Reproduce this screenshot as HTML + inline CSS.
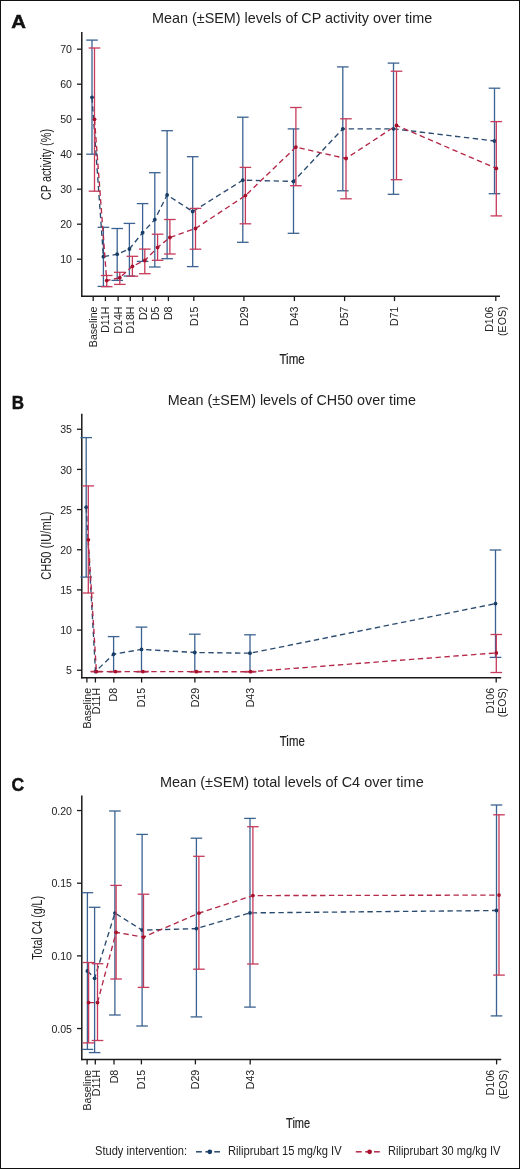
<!DOCTYPE html>
<html><head><meta charset="utf-8"><title>Chart</title>
<style>
html,body{margin:0;padding:0;background:#fff;}
body{width:520px;height:1169px;overflow:hidden;}
svg{display:block;font-family:"Liberation Sans", sans-serif;will-change:transform;}
</style></head>
<body>
<svg width="520" height="1169" viewBox="0 0 520 1169">
<rect x="0" y="0" width="520" height="1169" fill="#fff"/>
<text transform="translate(11.22 27.77) scale(1.072 1)" x="0" y="0" font-size="19.0" font-weight="bold" fill="#111" stroke="#111" stroke-width="0.45">A</text>
<text x="152.00" y="23.20" font-size="14.2" text-anchor="start" font-weight="normal" fill="#222222" textLength="280.20" lengthAdjust="spacingAndGlyphs">Mean (±SEM) levels of CP activity over time</text>
<line x1="81.80" y1="32.00" x2="81.80" y2="297.00" stroke="#1a1a1a" stroke-width="1.5"/>
<line x1="81.10" y1="296.30" x2="500.00" y2="296.30" stroke="#1a1a1a" stroke-width="1.5"/>
<line x1="77.00" y1="259.20" x2="81.80" y2="259.20" stroke="#1a1a1a" stroke-width="1.3"/>
<text x="72.00" y="263.30" font-size="10.6" text-anchor="end" font-weight="normal" fill="#222222">10</text>
<line x1="77.00" y1="224.20" x2="81.80" y2="224.20" stroke="#1a1a1a" stroke-width="1.3"/>
<text x="72.00" y="228.30" font-size="10.6" text-anchor="end" font-weight="normal" fill="#222222">20</text>
<line x1="77.00" y1="189.20" x2="81.80" y2="189.20" stroke="#1a1a1a" stroke-width="1.3"/>
<text x="72.00" y="193.30" font-size="10.6" text-anchor="end" font-weight="normal" fill="#222222">30</text>
<line x1="77.00" y1="154.20" x2="81.80" y2="154.20" stroke="#1a1a1a" stroke-width="1.3"/>
<text x="72.00" y="158.30" font-size="10.6" text-anchor="end" font-weight="normal" fill="#222222">40</text>
<line x1="77.00" y1="119.20" x2="81.80" y2="119.20" stroke="#1a1a1a" stroke-width="1.3"/>
<text x="72.00" y="123.30" font-size="10.6" text-anchor="end" font-weight="normal" fill="#222222">50</text>
<line x1="77.00" y1="84.20" x2="81.80" y2="84.20" stroke="#1a1a1a" stroke-width="1.3"/>
<text x="72.00" y="88.30" font-size="10.6" text-anchor="end" font-weight="normal" fill="#222222">60</text>
<line x1="77.00" y1="49.20" x2="81.80" y2="49.20" stroke="#1a1a1a" stroke-width="1.3"/>
<text x="72.00" y="53.30" font-size="10.6" text-anchor="end" font-weight="normal" fill="#222222">70</text>
<line x1="93.20" y1="296.30" x2="93.20" y2="301.10" stroke="#1a1a1a" stroke-width="1.3"/>
<text x="96.90" y="306.50" font-size="10.6" text-anchor="end" font-weight="normal" fill="#222222" transform="rotate(-90 96.90 306.50)">Baseline</text>
<line x1="105.40" y1="296.30" x2="105.40" y2="301.10" stroke="#1a1a1a" stroke-width="1.3"/>
<text x="109.10" y="306.50" font-size="10.6" text-anchor="end" font-weight="normal" fill="#222222" transform="rotate(-90 109.10 306.50)">D11H</text>
<line x1="118.10" y1="296.30" x2="118.10" y2="301.10" stroke="#1a1a1a" stroke-width="1.3"/>
<text x="121.80" y="306.50" font-size="10.6" text-anchor="end" font-weight="normal" fill="#222222" transform="rotate(-90 121.80 306.50)">D14H</text>
<line x1="130.30" y1="296.30" x2="130.30" y2="301.10" stroke="#1a1a1a" stroke-width="1.3"/>
<text x="134.00" y="306.50" font-size="10.6" text-anchor="end" font-weight="normal" fill="#222222" transform="rotate(-90 134.00 306.50)">D18H</text>
<line x1="142.80" y1="296.30" x2="142.80" y2="301.10" stroke="#1a1a1a" stroke-width="1.3"/>
<text x="146.50" y="306.50" font-size="10.6" text-anchor="end" font-weight="normal" fill="#222222" transform="rotate(-90 146.50 306.50)">D2</text>
<line x1="155.50" y1="296.30" x2="155.50" y2="301.10" stroke="#1a1a1a" stroke-width="1.3"/>
<text x="159.20" y="306.50" font-size="10.6" text-anchor="end" font-weight="normal" fill="#222222" transform="rotate(-90 159.20 306.50)">D5</text>
<line x1="168.40" y1="296.30" x2="168.40" y2="301.10" stroke="#1a1a1a" stroke-width="1.3"/>
<text x="172.10" y="306.50" font-size="10.6" text-anchor="end" font-weight="normal" fill="#222222" transform="rotate(-90 172.10 306.50)">D8</text>
<line x1="193.80" y1="296.30" x2="193.80" y2="301.10" stroke="#1a1a1a" stroke-width="1.3"/>
<text x="197.50" y="306.50" font-size="10.6" text-anchor="end" font-weight="normal" fill="#222222" transform="rotate(-90 197.50 306.50)">D15</text>
<line x1="243.90" y1="296.30" x2="243.90" y2="301.10" stroke="#1a1a1a" stroke-width="1.3"/>
<text x="247.60" y="306.50" font-size="10.6" text-anchor="end" font-weight="normal" fill="#222222" transform="rotate(-90 247.60 306.50)">D29</text>
<line x1="294.40" y1="296.30" x2="294.40" y2="301.10" stroke="#1a1a1a" stroke-width="1.3"/>
<text x="298.10" y="306.50" font-size="10.6" text-anchor="end" font-weight="normal" fill="#222222" transform="rotate(-90 298.10 306.50)">D43</text>
<line x1="344.60" y1="296.30" x2="344.60" y2="301.10" stroke="#1a1a1a" stroke-width="1.3"/>
<text x="348.30" y="306.50" font-size="10.6" text-anchor="end" font-weight="normal" fill="#222222" transform="rotate(-90 348.30 306.50)">D57</text>
<line x1="394.50" y1="296.30" x2="394.50" y2="301.10" stroke="#1a1a1a" stroke-width="1.3"/>
<text x="398.20" y="306.50" font-size="10.6" text-anchor="end" font-weight="normal" fill="#222222" transform="rotate(-90 398.20 306.50)">D71</text>
<line x1="495.80" y1="296.30" x2="495.80" y2="301.10" stroke="#1a1a1a" stroke-width="1.3"/>
<text x="493.25" y="306.50" font-size="10.6" text-anchor="end" font-weight="normal" fill="#222222" transform="rotate(-90 493.25 306.50)">D106</text>
<text x="505.75" y="306.50" font-size="10.6" text-anchor="end" font-weight="normal" fill="#222222" transform="rotate(-90 505.75 306.50)">(EOS)</text>
<text x="51.00" y="164.50" font-size="14.5" text-anchor="middle" font-weight="normal" fill="#222222" textLength="71.00" lengthAdjust="spacingAndGlyphs" transform="rotate(-90 51.00 164.50)">CP activity (%)</text>
<text x="279.50" y="364.40" font-size="14.8" text-anchor="start" font-weight="normal" fill="#222222" textLength="25.20" lengthAdjust="spacingAndGlyphs" stroke="#222" stroke-width="0.2">Time</text>
<line x1="92.00" y1="40.10" x2="92.00" y2="154.20" stroke="#3b6290" stroke-width="1.3"/>
<line x1="86.20" y1="40.10" x2="97.80" y2="40.10" stroke="#3b6290" stroke-width="1.3"/>
<line x1="86.20" y1="154.20" x2="97.80" y2="154.20" stroke="#3b6290" stroke-width="1.3"/>
<line x1="103.40" y1="227.30" x2="103.40" y2="286.40" stroke="#3b6290" stroke-width="1.3"/>
<line x1="97.60" y1="227.30" x2="109.20" y2="227.30" stroke="#3b6290" stroke-width="1.3"/>
<line x1="97.60" y1="286.40" x2="109.20" y2="286.40" stroke="#3b6290" stroke-width="1.3"/>
<line x1="117.20" y1="228.50" x2="117.20" y2="280.40" stroke="#3b6290" stroke-width="1.3"/>
<line x1="111.40" y1="228.50" x2="123.00" y2="228.50" stroke="#3b6290" stroke-width="1.3"/>
<line x1="111.40" y1="280.40" x2="123.00" y2="280.40" stroke="#3b6290" stroke-width="1.3"/>
<line x1="129.40" y1="223.40" x2="129.40" y2="276.00" stroke="#3b6290" stroke-width="1.3"/>
<line x1="123.60" y1="223.40" x2="135.20" y2="223.40" stroke="#3b6290" stroke-width="1.3"/>
<line x1="123.60" y1="276.00" x2="135.20" y2="276.00" stroke="#3b6290" stroke-width="1.3"/>
<line x1="142.60" y1="203.60" x2="142.60" y2="261.40" stroke="#3b6290" stroke-width="1.3"/>
<line x1="136.80" y1="203.60" x2="148.40" y2="203.60" stroke="#3b6290" stroke-width="1.3"/>
<line x1="136.80" y1="261.40" x2="148.40" y2="261.40" stroke="#3b6290" stroke-width="1.3"/>
<line x1="154.80" y1="172.70" x2="154.80" y2="267.00" stroke="#3b6290" stroke-width="1.3"/>
<line x1="149.00" y1="172.70" x2="160.60" y2="172.70" stroke="#3b6290" stroke-width="1.3"/>
<line x1="149.00" y1="267.00" x2="160.60" y2="267.00" stroke="#3b6290" stroke-width="1.3"/>
<line x1="167.10" y1="130.70" x2="167.10" y2="258.70" stroke="#3b6290" stroke-width="1.3"/>
<line x1="161.30" y1="130.70" x2="172.90" y2="130.70" stroke="#3b6290" stroke-width="1.3"/>
<line x1="161.30" y1="258.70" x2="172.90" y2="258.70" stroke="#3b6290" stroke-width="1.3"/>
<line x1="192.70" y1="156.70" x2="192.70" y2="266.60" stroke="#3b6290" stroke-width="1.3"/>
<line x1="186.90" y1="156.70" x2="198.50" y2="156.70" stroke="#3b6290" stroke-width="1.3"/>
<line x1="186.90" y1="266.60" x2="198.50" y2="266.60" stroke="#3b6290" stroke-width="1.3"/>
<line x1="242.80" y1="117.20" x2="242.80" y2="242.30" stroke="#3b6290" stroke-width="1.3"/>
<line x1="237.00" y1="117.20" x2="248.60" y2="117.20" stroke="#3b6290" stroke-width="1.3"/>
<line x1="237.00" y1="242.30" x2="248.60" y2="242.30" stroke="#3b6290" stroke-width="1.3"/>
<line x1="293.50" y1="128.90" x2="293.50" y2="233.30" stroke="#3b6290" stroke-width="1.3"/>
<line x1="287.70" y1="128.90" x2="299.30" y2="128.90" stroke="#3b6290" stroke-width="1.3"/>
<line x1="287.70" y1="233.30" x2="299.30" y2="233.30" stroke="#3b6290" stroke-width="1.3"/>
<line x1="342.80" y1="66.90" x2="342.80" y2="190.80" stroke="#3b6290" stroke-width="1.3"/>
<line x1="337.00" y1="66.90" x2="348.60" y2="66.90" stroke="#3b6290" stroke-width="1.3"/>
<line x1="337.00" y1="190.80" x2="348.60" y2="190.80" stroke="#3b6290" stroke-width="1.3"/>
<line x1="393.50" y1="63.10" x2="393.50" y2="194.30" stroke="#3b6290" stroke-width="1.3"/>
<line x1="387.70" y1="63.10" x2="399.30" y2="63.10" stroke="#3b6290" stroke-width="1.3"/>
<line x1="387.70" y1="194.30" x2="399.30" y2="194.30" stroke="#3b6290" stroke-width="1.3"/>
<line x1="494.50" y1="88.20" x2="494.50" y2="193.70" stroke="#3b6290" stroke-width="1.3"/>
<line x1="488.70" y1="88.20" x2="500.30" y2="88.20" stroke="#3b6290" stroke-width="1.3"/>
<line x1="488.70" y1="193.70" x2="500.30" y2="193.70" stroke="#3b6290" stroke-width="1.3"/>
<polyline points="92.00,97.30 103.40,256.70 117.20,254.20 129.40,249.00 142.60,232.70 154.80,219.60 167.10,195.00 192.70,211.50 242.80,180.20 293.50,181.40 342.80,128.80 393.50,128.80 494.50,141.00" fill="none" stroke="#2a4a70" stroke-width="1.35" stroke-dasharray="5.4 3.5"/>
<circle cx="92.00" cy="97.30" r="1.9" fill="#163e66"/>
<circle cx="103.40" cy="256.70" r="1.9" fill="#163e66"/>
<circle cx="117.20" cy="254.20" r="1.9" fill="#163e66"/>
<circle cx="129.40" cy="249.00" r="1.9" fill="#163e66"/>
<circle cx="142.60" cy="232.70" r="1.9" fill="#163e66"/>
<circle cx="154.80" cy="219.60" r="1.9" fill="#163e66"/>
<circle cx="167.10" cy="195.00" r="1.9" fill="#163e66"/>
<circle cx="192.70" cy="211.50" r="1.9" fill="#163e66"/>
<circle cx="242.80" cy="180.20" r="1.9" fill="#163e66"/>
<circle cx="293.50" cy="181.40" r="1.9" fill="#163e66"/>
<circle cx="342.80" cy="128.80" r="1.9" fill="#163e66"/>
<circle cx="393.50" cy="128.80" r="1.9" fill="#163e66"/>
<circle cx="494.50" cy="141.00" r="1.9" fill="#163e66"/>
<line x1="94.50" y1="48.00" x2="94.50" y2="191.20" stroke="#c63a5a" stroke-width="1.3"/>
<line x1="88.70" y1="48.00" x2="100.30" y2="48.00" stroke="#c63a5a" stroke-width="1.3"/>
<line x1="88.70" y1="191.20" x2="100.30" y2="191.20" stroke="#c63a5a" stroke-width="1.3"/>
<line x1="106.70" y1="275.50" x2="106.70" y2="286.70" stroke="#c63a5a" stroke-width="1.3"/>
<line x1="100.90" y1="275.50" x2="112.50" y2="275.50" stroke="#c63a5a" stroke-width="1.3"/>
<line x1="100.90" y1="286.70" x2="112.50" y2="286.70" stroke="#c63a5a" stroke-width="1.3"/>
<line x1="119.80" y1="272.30" x2="119.80" y2="284.40" stroke="#c63a5a" stroke-width="1.3"/>
<line x1="114.00" y1="272.30" x2="125.60" y2="272.30" stroke="#c63a5a" stroke-width="1.3"/>
<line x1="114.00" y1="284.40" x2="125.60" y2="284.40" stroke="#c63a5a" stroke-width="1.3"/>
<line x1="132.40" y1="256.30" x2="132.40" y2="276.20" stroke="#c63a5a" stroke-width="1.3"/>
<line x1="126.60" y1="256.30" x2="138.20" y2="256.30" stroke="#c63a5a" stroke-width="1.3"/>
<line x1="126.60" y1="276.20" x2="138.20" y2="276.20" stroke="#c63a5a" stroke-width="1.3"/>
<line x1="144.80" y1="249.10" x2="144.80" y2="273.70" stroke="#c63a5a" stroke-width="1.3"/>
<line x1="139.00" y1="249.10" x2="150.60" y2="249.10" stroke="#c63a5a" stroke-width="1.3"/>
<line x1="139.00" y1="273.70" x2="150.60" y2="273.70" stroke="#c63a5a" stroke-width="1.3"/>
<line x1="157.60" y1="234.20" x2="157.60" y2="260.30" stroke="#c63a5a" stroke-width="1.3"/>
<line x1="151.80" y1="234.20" x2="163.40" y2="234.20" stroke="#c63a5a" stroke-width="1.3"/>
<line x1="151.80" y1="260.30" x2="163.40" y2="260.30" stroke="#c63a5a" stroke-width="1.3"/>
<line x1="169.90" y1="219.50" x2="169.90" y2="254.00" stroke="#c63a5a" stroke-width="1.3"/>
<line x1="164.10" y1="219.50" x2="175.70" y2="219.50" stroke="#c63a5a" stroke-width="1.3"/>
<line x1="164.10" y1="254.00" x2="175.70" y2="254.00" stroke="#c63a5a" stroke-width="1.3"/>
<line x1="195.50" y1="208.40" x2="195.50" y2="249.20" stroke="#c63a5a" stroke-width="1.3"/>
<line x1="189.70" y1="208.40" x2="201.30" y2="208.40" stroke="#c63a5a" stroke-width="1.3"/>
<line x1="189.70" y1="249.20" x2="201.30" y2="249.20" stroke="#c63a5a" stroke-width="1.3"/>
<line x1="245.40" y1="167.40" x2="245.40" y2="223.80" stroke="#c63a5a" stroke-width="1.3"/>
<line x1="239.60" y1="167.40" x2="251.20" y2="167.40" stroke="#c63a5a" stroke-width="1.3"/>
<line x1="239.60" y1="223.80" x2="251.20" y2="223.80" stroke="#c63a5a" stroke-width="1.3"/>
<line x1="295.90" y1="107.50" x2="295.90" y2="185.70" stroke="#c63a5a" stroke-width="1.3"/>
<line x1="290.10" y1="107.50" x2="301.70" y2="107.50" stroke="#c63a5a" stroke-width="1.3"/>
<line x1="290.10" y1="185.70" x2="301.70" y2="185.70" stroke="#c63a5a" stroke-width="1.3"/>
<line x1="346.00" y1="118.80" x2="346.00" y2="198.80" stroke="#c63a5a" stroke-width="1.3"/>
<line x1="340.20" y1="118.80" x2="351.80" y2="118.80" stroke="#c63a5a" stroke-width="1.3"/>
<line x1="340.20" y1="198.80" x2="351.80" y2="198.80" stroke="#c63a5a" stroke-width="1.3"/>
<line x1="396.50" y1="71.20" x2="396.50" y2="179.70" stroke="#c63a5a" stroke-width="1.3"/>
<line x1="390.70" y1="71.20" x2="402.30" y2="71.20" stroke="#c63a5a" stroke-width="1.3"/>
<line x1="390.70" y1="179.70" x2="402.30" y2="179.70" stroke="#c63a5a" stroke-width="1.3"/>
<line x1="496.30" y1="121.60" x2="496.30" y2="215.90" stroke="#c63a5a" stroke-width="1.3"/>
<line x1="490.50" y1="121.60" x2="502.10" y2="121.60" stroke="#c63a5a" stroke-width="1.3"/>
<line x1="490.50" y1="215.90" x2="502.10" y2="215.90" stroke="#c63a5a" stroke-width="1.3"/>
<polyline points="94.50,119.30 106.70,280.60 119.80,277.70 132.40,266.30 144.80,260.50 157.60,247.40 169.90,237.50 195.50,228.50 245.40,195.60 295.90,147.10 346.00,158.50 396.50,125.40 496.30,168.40" fill="none" stroke="#b42848" stroke-width="1.35" stroke-dasharray="5.4 3.5"/>
<circle cx="94.50" cy="119.30" r="1.9" fill="#a8102c"/>
<circle cx="106.70" cy="280.60" r="1.9" fill="#a8102c"/>
<circle cx="119.80" cy="277.70" r="1.9" fill="#a8102c"/>
<circle cx="132.40" cy="266.30" r="1.9" fill="#a8102c"/>
<circle cx="144.80" cy="260.50" r="1.9" fill="#a8102c"/>
<circle cx="157.60" cy="247.40" r="1.9" fill="#a8102c"/>
<circle cx="169.90" cy="237.50" r="1.9" fill="#a8102c"/>
<circle cx="195.50" cy="228.50" r="1.9" fill="#a8102c"/>
<circle cx="245.40" cy="195.60" r="1.9" fill="#a8102c"/>
<circle cx="295.90" cy="147.10" r="1.9" fill="#a8102c"/>
<circle cx="346.00" cy="158.50" r="1.9" fill="#a8102c"/>
<circle cx="396.50" cy="125.40" r="1.9" fill="#a8102c"/>
<circle cx="496.30" cy="168.40" r="1.9" fill="#a8102c"/>
<text transform="translate(11.79 409.07) scale(0.894 1)" x="0" y="0" font-size="19.0" font-weight="bold" fill="#111" stroke="#111" stroke-width="0.45">B</text>
<text x="167.70" y="405.00" font-size="14.2" text-anchor="start" font-weight="normal" fill="#222222" textLength="248.30" lengthAdjust="spacingAndGlyphs">Mean (±SEM) levels of CH50 over time</text>
<line x1="81.80" y1="413.80" x2="81.80" y2="678.40" stroke="#1a1a1a" stroke-width="1.5"/>
<line x1="81.10" y1="677.70" x2="501.20" y2="677.70" stroke="#1a1a1a" stroke-width="1.5"/>
<line x1="77.00" y1="670.24" x2="81.80" y2="670.24" stroke="#1a1a1a" stroke-width="1.3"/>
<text x="72.00" y="674.34" font-size="10.6" text-anchor="end" font-weight="normal" fill="#222222">5</text>
<line x1="77.00" y1="630.07" x2="81.80" y2="630.07" stroke="#1a1a1a" stroke-width="1.3"/>
<text x="72.00" y="634.17" font-size="10.6" text-anchor="end" font-weight="normal" fill="#222222">10</text>
<line x1="77.00" y1="589.90" x2="81.80" y2="589.90" stroke="#1a1a1a" stroke-width="1.3"/>
<text x="72.00" y="594.00" font-size="10.6" text-anchor="end" font-weight="normal" fill="#222222">15</text>
<line x1="77.00" y1="549.74" x2="81.80" y2="549.74" stroke="#1a1a1a" stroke-width="1.3"/>
<text x="72.00" y="553.84" font-size="10.6" text-anchor="end" font-weight="normal" fill="#222222">20</text>
<line x1="77.00" y1="509.57" x2="81.80" y2="509.57" stroke="#1a1a1a" stroke-width="1.3"/>
<text x="72.00" y="513.67" font-size="10.6" text-anchor="end" font-weight="normal" fill="#222222">25</text>
<line x1="77.00" y1="469.41" x2="81.80" y2="469.41" stroke="#1a1a1a" stroke-width="1.3"/>
<text x="72.00" y="473.51" font-size="10.6" text-anchor="end" font-weight="normal" fill="#222222">30</text>
<line x1="77.00" y1="429.25" x2="81.80" y2="429.25" stroke="#1a1a1a" stroke-width="1.3"/>
<text x="72.00" y="433.35" font-size="10.6" text-anchor="end" font-weight="normal" fill="#222222">35</text>
<line x1="86.90" y1="677.70" x2="86.90" y2="682.50" stroke="#1a1a1a" stroke-width="1.3"/>
<text x="90.60" y="687.90" font-size="10.6" text-anchor="end" font-weight="normal" fill="#222222" transform="rotate(-90 90.60 687.90)">Baseline</text>
<line x1="95.40" y1="677.70" x2="95.40" y2="682.50" stroke="#1a1a1a" stroke-width="1.3"/>
<text x="99.70" y="687.90" font-size="10.6" text-anchor="end" font-weight="normal" fill="#222222" transform="rotate(-90 99.70 687.90)">D11H</text>
<line x1="113.80" y1="677.70" x2="113.80" y2="682.50" stroke="#1a1a1a" stroke-width="1.3"/>
<text x="117.50" y="687.90" font-size="10.6" text-anchor="end" font-weight="normal" fill="#222222" transform="rotate(-90 117.50 687.90)">D8</text>
<line x1="141.60" y1="677.70" x2="141.60" y2="682.50" stroke="#1a1a1a" stroke-width="1.3"/>
<text x="145.30" y="687.90" font-size="10.6" text-anchor="end" font-weight="normal" fill="#222222" transform="rotate(-90 145.30 687.90)">D15</text>
<line x1="194.90" y1="677.70" x2="194.90" y2="682.50" stroke="#1a1a1a" stroke-width="1.3"/>
<text x="198.60" y="687.90" font-size="10.6" text-anchor="end" font-weight="normal" fill="#222222" transform="rotate(-90 198.60 687.90)">D29</text>
<line x1="250.00" y1="677.70" x2="250.00" y2="682.50" stroke="#1a1a1a" stroke-width="1.3"/>
<text x="253.70" y="687.90" font-size="10.6" text-anchor="end" font-weight="normal" fill="#222222" transform="rotate(-90 253.70 687.90)">D43</text>
<line x1="496.20" y1="677.70" x2="496.20" y2="682.50" stroke="#1a1a1a" stroke-width="1.3"/>
<text x="493.65" y="687.90" font-size="10.6" text-anchor="end" font-weight="normal" fill="#222222" transform="rotate(-90 493.65 687.90)">D106</text>
<text x="506.15" y="687.90" font-size="10.6" text-anchor="end" font-weight="normal" fill="#222222" transform="rotate(-90 506.15 687.90)">(EOS)</text>
<text x="51.00" y="545.65" font-size="14.5" text-anchor="middle" font-weight="normal" fill="#222222" textLength="68.30" lengthAdjust="spacingAndGlyphs" transform="rotate(-90 51.00 545.65)">CH50 (IU/mL)</text>
<text x="279.80" y="745.50" font-size="14.8" text-anchor="start" font-weight="normal" fill="#222222" textLength="25.00" lengthAdjust="spacingAndGlyphs" stroke="#222" stroke-width="0.2">Time</text>
<line x1="86.20" y1="437.60" x2="86.20" y2="577.10" stroke="#3b6290" stroke-width="1.3"/>
<line x1="80.40" y1="437.60" x2="92.00" y2="437.60" stroke="#3b6290" stroke-width="1.3"/>
<line x1="80.40" y1="577.10" x2="92.00" y2="577.10" stroke="#3b6290" stroke-width="1.3"/>
<line x1="113.60" y1="636.60" x2="113.60" y2="671.70" stroke="#3b6290" stroke-width="1.3"/>
<line x1="107.80" y1="636.60" x2="119.40" y2="636.60" stroke="#3b6290" stroke-width="1.3"/>
<line x1="107.80" y1="671.70" x2="119.40" y2="671.70" stroke="#3b6290" stroke-width="1.3"/>
<line x1="141.50" y1="627.10" x2="141.50" y2="671.70" stroke="#3b6290" stroke-width="1.3"/>
<line x1="135.70" y1="627.10" x2="147.30" y2="627.10" stroke="#3b6290" stroke-width="1.3"/>
<line x1="135.70" y1="671.70" x2="147.30" y2="671.70" stroke="#3b6290" stroke-width="1.3"/>
<line x1="194.80" y1="634.20" x2="194.80" y2="671.70" stroke="#3b6290" stroke-width="1.3"/>
<line x1="189.00" y1="634.20" x2="200.60" y2="634.20" stroke="#3b6290" stroke-width="1.3"/>
<line x1="189.00" y1="671.70" x2="200.60" y2="671.70" stroke="#3b6290" stroke-width="1.3"/>
<line x1="250.00" y1="634.80" x2="250.00" y2="671.70" stroke="#3b6290" stroke-width="1.3"/>
<line x1="244.20" y1="634.80" x2="255.80" y2="634.80" stroke="#3b6290" stroke-width="1.3"/>
<line x1="244.20" y1="671.70" x2="255.80" y2="671.70" stroke="#3b6290" stroke-width="1.3"/>
<line x1="495.50" y1="550.00" x2="495.50" y2="657.40" stroke="#3b6290" stroke-width="1.3"/>
<line x1="489.70" y1="550.00" x2="501.30" y2="550.00" stroke="#3b6290" stroke-width="1.3"/>
<line x1="489.70" y1="657.40" x2="501.30" y2="657.40" stroke="#3b6290" stroke-width="1.3"/>
<polyline points="86.20,507.20 95.50,671.50 113.60,654.20 141.50,649.40 194.80,652.50 250.00,653.20 495.50,603.60" fill="none" stroke="#2a4a70" stroke-width="1.35" stroke-dasharray="5.4 3.5"/>
<circle cx="86.20" cy="507.20" r="1.9" fill="#163e66"/>
<circle cx="95.50" cy="671.50" r="1.9" fill="#163e66"/>
<circle cx="113.60" cy="654.20" r="1.9" fill="#163e66"/>
<circle cx="141.50" cy="649.40" r="1.9" fill="#163e66"/>
<circle cx="194.80" cy="652.50" r="1.9" fill="#163e66"/>
<circle cx="250.00" cy="653.20" r="1.9" fill="#163e66"/>
<circle cx="495.50" cy="603.60" r="1.9" fill="#163e66"/>
<line x1="88.30" y1="485.90" x2="88.30" y2="593.00" stroke="#c63a5a" stroke-width="1.3"/>
<line x1="82.50" y1="485.90" x2="94.10" y2="485.90" stroke="#c63a5a" stroke-width="1.3"/>
<line x1="82.50" y1="593.00" x2="94.10" y2="593.00" stroke="#c63a5a" stroke-width="1.3"/>
<line x1="96.40" y1="671.40" x2="96.40" y2="671.80" stroke="#c63a5a" stroke-width="1.3"/>
<line x1="90.60" y1="671.40" x2="102.20" y2="671.40" stroke="#c63a5a" stroke-width="1.3"/>
<line x1="90.60" y1="671.80" x2="102.20" y2="671.80" stroke="#c63a5a" stroke-width="1.3"/>
<line x1="115.40" y1="671.40" x2="115.40" y2="671.80" stroke="#c63a5a" stroke-width="1.3"/>
<line x1="109.60" y1="671.40" x2="121.20" y2="671.40" stroke="#c63a5a" stroke-width="1.3"/>
<line x1="109.60" y1="671.80" x2="121.20" y2="671.80" stroke="#c63a5a" stroke-width="1.3"/>
<line x1="142.90" y1="671.40" x2="142.90" y2="671.80" stroke="#c63a5a" stroke-width="1.3"/>
<line x1="137.10" y1="671.40" x2="148.70" y2="671.40" stroke="#c63a5a" stroke-width="1.3"/>
<line x1="137.10" y1="671.80" x2="148.70" y2="671.80" stroke="#c63a5a" stroke-width="1.3"/>
<line x1="196.40" y1="671.50" x2="196.40" y2="671.90" stroke="#c63a5a" stroke-width="1.3"/>
<line x1="190.60" y1="671.50" x2="202.20" y2="671.50" stroke="#c63a5a" stroke-width="1.3"/>
<line x1="190.60" y1="671.90" x2="202.20" y2="671.90" stroke="#c63a5a" stroke-width="1.3"/>
<line x1="250.50" y1="671.50" x2="250.50" y2="671.90" stroke="#c63a5a" stroke-width="1.3"/>
<line x1="244.70" y1="671.50" x2="256.30" y2="671.50" stroke="#c63a5a" stroke-width="1.3"/>
<line x1="244.70" y1="671.90" x2="256.30" y2="671.90" stroke="#c63a5a" stroke-width="1.3"/>
<line x1="496.30" y1="634.50" x2="496.30" y2="672.50" stroke="#c63a5a" stroke-width="1.3"/>
<line x1="490.50" y1="634.50" x2="502.10" y2="634.50" stroke="#c63a5a" stroke-width="1.3"/>
<line x1="490.50" y1="672.50" x2="502.10" y2="672.50" stroke="#c63a5a" stroke-width="1.3"/>
<polyline points="88.30,539.80 96.40,671.60 115.40,671.60 142.90,671.60 196.40,671.70 250.50,671.70 496.30,652.90" fill="none" stroke="#b42848" stroke-width="1.35" stroke-dasharray="5.4 3.5"/>
<circle cx="88.30" cy="539.80" r="1.9" fill="#a8102c"/>
<circle cx="96.40" cy="671.60" r="1.9" fill="#a8102c"/>
<circle cx="115.40" cy="671.60" r="1.9" fill="#a8102c"/>
<circle cx="142.90" cy="671.60" r="1.9" fill="#a8102c"/>
<circle cx="196.40" cy="671.70" r="1.9" fill="#a8102c"/>
<circle cx="250.50" cy="671.70" r="1.9" fill="#a8102c"/>
<circle cx="496.30" cy="652.90" r="1.9" fill="#a8102c"/>
<text transform="translate(11.41 790.88) scale(0.923 1)" x="0" y="0" font-size="19.0" font-weight="bold" fill="#111" stroke="#111" stroke-width="0.45">C</text>
<text x="160.00" y="787.00" font-size="14.2" text-anchor="start" font-weight="normal" fill="#222222" textLength="263.70" lengthAdjust="spacingAndGlyphs">Mean (±SEM) total levels of C4 over time</text>
<line x1="81.80" y1="795.50" x2="81.80" y2="1060.30" stroke="#1a1a1a" stroke-width="1.5"/>
<line x1="81.10" y1="1059.60" x2="501.20" y2="1059.60" stroke="#1a1a1a" stroke-width="1.5"/>
<line x1="77.00" y1="1028.54" x2="81.80" y2="1028.54" stroke="#1a1a1a" stroke-width="1.3"/>
<text x="72.00" y="1032.63" font-size="10.6" text-anchor="end" font-weight="normal" fill="#222222">0.05</text>
<line x1="77.00" y1="955.87" x2="81.80" y2="955.87" stroke="#1a1a1a" stroke-width="1.3"/>
<text x="72.00" y="959.97" font-size="10.6" text-anchor="end" font-weight="normal" fill="#222222">0.10</text>
<line x1="77.00" y1="883.21" x2="81.80" y2="883.21" stroke="#1a1a1a" stroke-width="1.3"/>
<text x="72.00" y="887.31" font-size="10.6" text-anchor="end" font-weight="normal" fill="#222222">0.15</text>
<line x1="77.00" y1="810.54" x2="81.80" y2="810.54" stroke="#1a1a1a" stroke-width="1.3"/>
<text x="72.00" y="814.64" font-size="10.6" text-anchor="end" font-weight="normal" fill="#222222">0.20</text>
<line x1="87.10" y1="1059.60" x2="87.10" y2="1064.40" stroke="#1a1a1a" stroke-width="1.3"/>
<text x="90.60" y="1069.80" font-size="10.6" text-anchor="end" font-weight="normal" fill="#222222" transform="rotate(-90 90.60 1069.80)">Baseline</text>
<line x1="95.30" y1="1059.60" x2="95.30" y2="1064.40" stroke="#1a1a1a" stroke-width="1.3"/>
<text x="99.70" y="1069.80" font-size="10.6" text-anchor="end" font-weight="normal" fill="#222222" transform="rotate(-90 99.70 1069.80)">D11H</text>
<line x1="114.00" y1="1059.60" x2="114.00" y2="1064.40" stroke="#1a1a1a" stroke-width="1.3"/>
<text x="117.70" y="1069.80" font-size="10.6" text-anchor="end" font-weight="normal" fill="#222222" transform="rotate(-90 117.70 1069.80)">D8</text>
<line x1="141.40" y1="1059.60" x2="141.40" y2="1064.40" stroke="#1a1a1a" stroke-width="1.3"/>
<text x="145.10" y="1069.80" font-size="10.6" text-anchor="end" font-weight="normal" fill="#222222" transform="rotate(-90 145.10 1069.80)">D15</text>
<line x1="195.40" y1="1059.60" x2="195.40" y2="1064.40" stroke="#1a1a1a" stroke-width="1.3"/>
<text x="199.10" y="1069.80" font-size="10.6" text-anchor="end" font-weight="normal" fill="#222222" transform="rotate(-90 199.10 1069.80)">D29</text>
<line x1="250.20" y1="1059.60" x2="250.20" y2="1064.40" stroke="#1a1a1a" stroke-width="1.3"/>
<text x="253.90" y="1069.80" font-size="10.6" text-anchor="end" font-weight="normal" fill="#222222" transform="rotate(-90 253.90 1069.80)">D43</text>
<line x1="496.60" y1="1059.60" x2="496.60" y2="1064.40" stroke="#1a1a1a" stroke-width="1.3"/>
<text x="494.05" y="1069.80" font-size="10.6" text-anchor="end" font-weight="normal" fill="#222222" transform="rotate(-90 494.05 1069.80)">D106</text>
<text x="506.55" y="1069.80" font-size="10.6" text-anchor="end" font-weight="normal" fill="#222222" transform="rotate(-90 506.55 1069.80)">(EOS)</text>
<text x="42.50" y="927.85" font-size="14.5" text-anchor="middle" font-weight="normal" fill="#222222" textLength="63.90" lengthAdjust="spacingAndGlyphs" transform="rotate(-90 42.50 927.85)">Total C4 (g/L)</text>
<text x="286.10" y="1128.00" font-size="14.8" text-anchor="start" font-weight="normal" fill="#222222" textLength="24.10" lengthAdjust="spacingAndGlyphs" stroke="#222" stroke-width="0.2">Time</text>
<line x1="87.40" y1="892.70" x2="87.40" y2="1049.40" stroke="#3b6290" stroke-width="1.3"/>
<line x1="81.60" y1="892.70" x2="93.20" y2="892.70" stroke="#3b6290" stroke-width="1.3"/>
<line x1="81.60" y1="1049.40" x2="93.20" y2="1049.40" stroke="#3b6290" stroke-width="1.3"/>
<line x1="94.60" y1="907.30" x2="94.60" y2="1052.60" stroke="#3b6290" stroke-width="1.3"/>
<line x1="88.80" y1="907.30" x2="100.40" y2="907.30" stroke="#3b6290" stroke-width="1.3"/>
<line x1="88.80" y1="1052.60" x2="100.40" y2="1052.60" stroke="#3b6290" stroke-width="1.3"/>
<line x1="114.90" y1="811.00" x2="114.90" y2="1015.00" stroke="#3b6290" stroke-width="1.3"/>
<line x1="109.10" y1="811.00" x2="120.70" y2="811.00" stroke="#3b6290" stroke-width="1.3"/>
<line x1="109.10" y1="1015.00" x2="120.70" y2="1015.00" stroke="#3b6290" stroke-width="1.3"/>
<line x1="142.10" y1="834.40" x2="142.10" y2="1026.00" stroke="#3b6290" stroke-width="1.3"/>
<line x1="136.30" y1="834.40" x2="147.90" y2="834.40" stroke="#3b6290" stroke-width="1.3"/>
<line x1="136.30" y1="1026.00" x2="147.90" y2="1026.00" stroke="#3b6290" stroke-width="1.3"/>
<line x1="196.40" y1="838.20" x2="196.40" y2="1016.90" stroke="#3b6290" stroke-width="1.3"/>
<line x1="190.60" y1="838.20" x2="202.20" y2="838.20" stroke="#3b6290" stroke-width="1.3"/>
<line x1="190.60" y1="1016.90" x2="202.20" y2="1016.90" stroke="#3b6290" stroke-width="1.3"/>
<line x1="250.00" y1="818.40" x2="250.00" y2="1007.10" stroke="#3b6290" stroke-width="1.3"/>
<line x1="244.20" y1="818.40" x2="255.80" y2="818.40" stroke="#3b6290" stroke-width="1.3"/>
<line x1="244.20" y1="1007.10" x2="255.80" y2="1007.10" stroke="#3b6290" stroke-width="1.3"/>
<line x1="496.50" y1="805.00" x2="496.50" y2="1015.90" stroke="#3b6290" stroke-width="1.3"/>
<line x1="490.70" y1="805.00" x2="502.30" y2="805.00" stroke="#3b6290" stroke-width="1.3"/>
<line x1="490.70" y1="1015.90" x2="502.30" y2="1015.90" stroke="#3b6290" stroke-width="1.3"/>
<polyline points="87.40,971.00 94.60,978.30 114.90,913.10 142.10,930.10 196.40,928.60 250.00,912.90 496.50,910.50" fill="none" stroke="#2a4a70" stroke-width="1.35" stroke-dasharray="5.4 3.5"/>
<circle cx="87.40" cy="971.00" r="1.9" fill="#163e66"/>
<circle cx="94.60" cy="978.30" r="1.9" fill="#163e66"/>
<circle cx="114.90" cy="913.10" r="1.9" fill="#163e66"/>
<circle cx="142.10" cy="930.10" r="1.9" fill="#163e66"/>
<circle cx="196.40" cy="928.60" r="1.9" fill="#163e66"/>
<circle cx="250.00" cy="912.90" r="1.9" fill="#163e66"/>
<circle cx="496.50" cy="910.50" r="1.9" fill="#163e66"/>
<line x1="88.60" y1="962.50" x2="88.60" y2="1042.90" stroke="#c63a5a" stroke-width="1.3"/>
<line x1="82.80" y1="962.50" x2="94.40" y2="962.50" stroke="#c63a5a" stroke-width="1.3"/>
<line x1="82.80" y1="1042.90" x2="94.40" y2="1042.90" stroke="#c63a5a" stroke-width="1.3"/>
<line x1="97.50" y1="963.70" x2="97.50" y2="1040.50" stroke="#c63a5a" stroke-width="1.3"/>
<line x1="91.70" y1="963.70" x2="103.30" y2="963.70" stroke="#c63a5a" stroke-width="1.3"/>
<line x1="91.70" y1="1040.50" x2="103.30" y2="1040.50" stroke="#c63a5a" stroke-width="1.3"/>
<line x1="116.10" y1="885.40" x2="116.10" y2="979.00" stroke="#c63a5a" stroke-width="1.3"/>
<line x1="110.30" y1="885.40" x2="121.90" y2="885.40" stroke="#c63a5a" stroke-width="1.3"/>
<line x1="110.30" y1="979.00" x2="121.90" y2="979.00" stroke="#c63a5a" stroke-width="1.3"/>
<line x1="143.50" y1="894.20" x2="143.50" y2="987.40" stroke="#c63a5a" stroke-width="1.3"/>
<line x1="137.70" y1="894.20" x2="149.30" y2="894.20" stroke="#c63a5a" stroke-width="1.3"/>
<line x1="137.70" y1="987.40" x2="149.30" y2="987.40" stroke="#c63a5a" stroke-width="1.3"/>
<line x1="198.90" y1="856.30" x2="198.90" y2="969.20" stroke="#c63a5a" stroke-width="1.3"/>
<line x1="193.10" y1="856.30" x2="204.70" y2="856.30" stroke="#c63a5a" stroke-width="1.3"/>
<line x1="193.10" y1="969.20" x2="204.70" y2="969.20" stroke="#c63a5a" stroke-width="1.3"/>
<line x1="252.90" y1="826.70" x2="252.90" y2="964.00" stroke="#c63a5a" stroke-width="1.3"/>
<line x1="247.10" y1="826.70" x2="258.70" y2="826.70" stroke="#c63a5a" stroke-width="1.3"/>
<line x1="247.10" y1="964.00" x2="258.70" y2="964.00" stroke="#c63a5a" stroke-width="1.3"/>
<line x1="499.00" y1="814.80" x2="499.00" y2="975.10" stroke="#c63a5a" stroke-width="1.3"/>
<line x1="493.20" y1="814.80" x2="504.80" y2="814.80" stroke="#c63a5a" stroke-width="1.3"/>
<line x1="493.20" y1="975.10" x2="504.80" y2="975.10" stroke="#c63a5a" stroke-width="1.3"/>
<polyline points="88.60,1002.60 97.50,1002.60 116.10,932.30 143.50,937.10 198.90,913.20 252.90,895.60 499.00,895.10" fill="none" stroke="#b42848" stroke-width="1.35" stroke-dasharray="5.4 3.5"/>
<circle cx="88.60" cy="1002.60" r="1.9" fill="#a8102c"/>
<circle cx="97.50" cy="1002.60" r="1.9" fill="#a8102c"/>
<circle cx="116.10" cy="932.30" r="1.9" fill="#a8102c"/>
<circle cx="143.50" cy="937.10" r="1.9" fill="#a8102c"/>
<circle cx="198.90" cy="913.20" r="1.9" fill="#a8102c"/>
<circle cx="252.90" cy="895.60" r="1.9" fill="#a8102c"/>
<circle cx="499.00" cy="895.10" r="1.9" fill="#a8102c"/>
<text x="95.00" y="1155.40" font-size="12.2" text-anchor="start" font-weight="normal" fill="#222222" textLength="92.00" lengthAdjust="spacingAndGlyphs">Study intervention:</text>
<line x1="196.00" y1="1151.80" x2="201.90" y2="1151.80" stroke="#2a4a70" stroke-width="1.5"/>
<line x1="205.40" y1="1151.80" x2="211.20" y2="1151.80" stroke="#2a4a70" stroke-width="1.5"/>
<line x1="214.20" y1="1151.80" x2="220.00" y2="1151.80" stroke="#2a4a70" stroke-width="1.5"/>
<circle cx="209.80" cy="1151.8" r="2.4" fill="#163e66"/>
<text x="228.00" y="1155.40" font-size="12.2" text-anchor="start" font-weight="normal" fill="#222222" textLength="113.60" lengthAdjust="spacingAndGlyphs">Riliprubart 15 mg/kg IV</text>
<line x1="355.80" y1="1151.80" x2="361.70" y2="1151.80" stroke="#b42848" stroke-width="1.5"/>
<line x1="365.20" y1="1151.80" x2="371.00" y2="1151.80" stroke="#b42848" stroke-width="1.5"/>
<line x1="374.00" y1="1151.80" x2="379.80" y2="1151.80" stroke="#b42848" stroke-width="1.5"/>
<circle cx="369.60" cy="1151.8" r="2.4" fill="#a8102c"/>
<text x="388.00" y="1155.40" font-size="12.2" text-anchor="start" font-weight="normal" fill="#222222" textLength="112.40" lengthAdjust="spacingAndGlyphs">Riliprubart 30 mg/kg IV</text>
<rect x="0.5" y="0.5" width="519" height="1168" fill="none" stroke="#111" stroke-width="1"/>
</svg>
</body></html>
